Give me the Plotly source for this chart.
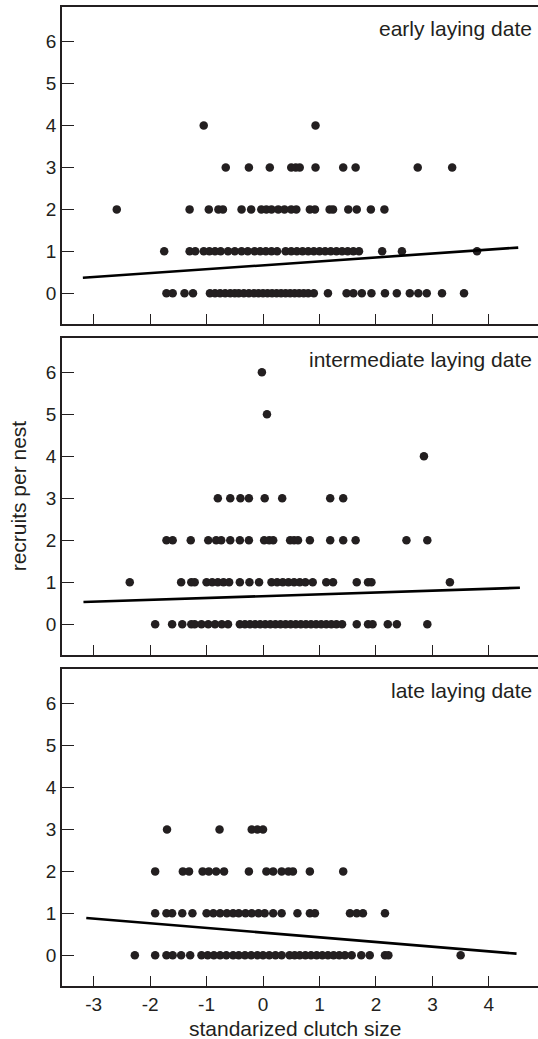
import plotly.graph_objects as go

# ---------------- data ----------------
x_ticks = [-3, -2, -1, 0, 1, 2, 3, 4]
x_tick_labels = ["-3", "-2", "-1", "0", "1", "2", "3", "4"]
y_ticks = [0, 1, 2, 3, 4, 5, 6]
panel_labels = ["early laying date", "intermediate laying date", "late laying date"]

# early laying date: x positions for each recruit count
early_y4 = [-1.05, 0.93]
early_y3 = [-0.66, -0.25, 0.12, 0.50, 0.58, 0.65, 0.93, 1.42, 1.64, 2.74, 3.35]
early_y2 = [-2.59, -1.30, -0.96, -0.79, -0.71, -0.38, -0.21, -0.03, 0.06, 0.15, 0.27,
            0.38, 0.50, 0.59, 0.83, 0.92, 1.18, 1.24, 1.51, 1.66, 1.91, 2.15]
early_y1 = [-1.75, -1.30, -1.20, -1.05, -0.95, -0.85, -0.75, -0.62, -0.50, -0.38, -0.27,
            -0.15, -0.05, 0.05, 0.15, 0.25, 0.40, 0.50, 0.60, 0.70, 0.80, 0.90, 1.00,
            1.10, 1.20, 1.30, 1.40, 1.50, 1.60, 1.70, 2.11, 2.46, 3.79]
early_y0 = [-1.71, -1.60, -1.39, -1.24, -0.94, -0.85, -0.76, -0.67, -0.58, -0.50, -0.43,
            -0.34, -0.25, -0.16, -0.08, 0.00, 0.08, 0.16, 0.24, 0.32, 0.40, 0.48, 0.56,
            0.64, 0.72, 0.80, 0.90, 1.15, 1.48, 1.60, 1.75, 1.92, 2.16, 2.37, 2.60, 2.75,
            2.90, 3.17, 3.56]
early_fit_x = [-3.19, 4.52]
early_fit_y = [0.37, 1.09]

# intermediate laying date
inter_y6 = [-0.02]
inter_y5 = [0.07]
inter_y4 = [2.85]
inter_y3 = [-0.80, -0.58, -0.40, -0.25, 0.03, 0.34, 1.19, 1.42]
inter_y2 = [-1.71, -1.60, -1.28, -0.97, -0.83, -0.74, -0.58, -0.41, -0.25, 0.02, 0.11,
            0.18, 0.48, 0.55, 0.62, 0.83, 1.19, 1.42, 1.64, 2.54, 2.91]
inter_y1 = [-2.36, -1.45, -1.27, -1.21, -1.00, -0.90, -0.80, -0.70, -0.60, -0.41, -0.24,
            -0.07, 0.15, 0.25, 0.35, 0.45, 0.55, 0.65, 0.75, 0.88, 1.12, 1.24, 1.66,
            1.86, 1.92, 3.31]
inter_y0 = [-1.91, -1.61, -1.43, -1.27, -1.21, -1.09, -0.97, -0.85, -0.73, -0.62, -0.41,
            -0.32, -0.23, -0.14, -0.05, 0.04, 0.13, 0.22, 0.31, 0.40, 0.49, 0.58, 0.67,
            0.76, 0.85, 0.94, 1.03, 1.12, 1.21, 1.30, 1.40, 1.66, 1.86, 1.94, 2.21, 2.37,
            2.91]
inter_fit_x = [-3.18, 4.55]
inter_fit_y = [0.53, 0.87]

# late laying date
late_y3 = [-1.70, -0.77, -0.20, -0.10, 0.00]
late_y2 = [-1.91, -1.42, -1.31, -1.07, -0.96, -0.83, -0.69, -0.25, 0.06, 0.18, 0.33,
           0.45, 0.53, 0.83, 1.42]
late_y1 = [-1.91, -1.71, -1.61, -1.43, -1.25, -1.00, -0.88, -0.76, -0.64, -0.53, -0.43,
           -0.31, -0.20, -0.08, 0.03, 0.18, 0.33, 0.61, 0.83, 0.92, 1.54, 1.66, 1.77, 2.16]
late_y0 = [-2.27, -1.91, -1.71, -1.60, -1.45, -1.29, -1.09, -0.98, -0.87, -0.76, -0.65,
           -0.53, -0.43, -0.32, -0.21, -0.10, 0.00, 0.11, 0.22, 0.33, 0.47, 0.56, 0.65,
           0.75, 0.85, 0.95, 1.05, 1.15, 1.25, 1.35, 1.45, 1.57, 1.74, 1.89, 2.16, 2.22,
           3.50]
late_fit_x = [-3.13, 4.49]
late_fit_y = [0.89, 0.04]

# ---------------- build ----------------
INK = "#231f20"
FONT = "Liberation Sans, Arial, Helvetica, sans-serif"

panels = [
    ({0: early_y0, 1: early_y1, 2: early_y2, 3: early_y3, 4: early_y4}, early_fit_x, early_fit_y),
    ({0: inter_y0, 1: inter_y1, 2: inter_y2, 3: inter_y3, 4: inter_y4, 5: inter_y5, 6: inter_y6},
     inter_fit_x, inter_fit_y),
    ({0: late_y0, 1: late_y1, 2: late_y2, 3: late_y3}, late_fit_x, late_fit_y),
]

domains = [[0.6762, 1.0], [0.3381, 0.6622], [0.0, 0.3238]]
y_range = [-0.73, 6.82]

fig = go.Figure()
layout = dict(
    width=538, height=1039,
    margin=dict(l=62, r=0, t=7, b=53, autoexpand=False),
    paper_bgcolor="white", plot_bgcolor="white",
    showlegend=False,
    font=dict(family=FONT, color=INK, size=19),
    annotations=[],
)

for i, (levels, fx, fy) in enumerate(panels):
    n = "" if i == 0 else str(i + 1)
    xs, ys = [], []
    for lvl, vals in levels.items():
        xs += vals
        ys += [lvl] * len(vals)
    fig.add_trace(go.Scatter(x=xs, y=ys, mode="markers", xaxis="x" + n, yaxis="y" + n,
                             marker=dict(size=8.5, color=INK, line=dict(width=0))))
    fig.add_trace(go.Scatter(x=fx, y=fy, mode="lines", xaxis="x" + n, yaxis="y" + n,
                             line=dict(color="black", width=2.6)))
    layout["xaxis" + n] = dict(
        domain=[0, 1], anchor="y" + n, range=[-3.56, 4.87],
        tickvals=x_ticks, ticktext=x_tick_labels,
        ticks="inside", ticklen=10, tickwidth=1.2, tickcolor=INK,
        showline=True, linecolor=INK, linewidth=1.5, mirror=True,
        showgrid=False, zeroline=False, showticklabels=(i == 2),
        tickfont=dict(size=19, color=INK, family=FONT),
    )
    layout["yaxis" + n] = dict(
        domain=domains[i], anchor="x" + n, range=y_range,
        tickvals=y_ticks, ticks="inside", ticklen=12, tickwidth=1.2, tickcolor=INK,
        showline=True, linecolor=INK, linewidth=1.5, mirror=False,
        showgrid=False, zeroline=False,
        tickfont=dict(size=19, color=INK, family=FONT),
    )
    layout["annotations"].append(dict(
        text=panel_labels[i], xref="x" + n + " domain", yref="y" + n + " domain",
        x=1, y=1, xanchor="right", yanchor="top", xshift=-4, yshift=-8,
        showarrow=False, font=dict(size=21, color=INK, family=FONT)))

layout["annotations"].append(dict(
    text="recruits per nest", xref="paper", yref="y2 domain", x=0, y=0.5,
    xanchor="center", yanchor="middle", xshift=-44, textangle=-90,
    showarrow=False, font=dict(size=21, color=INK, family=FONT)))
layout["annotations"].append(dict(
    text="standarized clutch size", xref="x3 domain", yref="paper", x=0.4905, y=0,
    xanchor="center", yanchor="middle", yshift=-42,
    showarrow=False, font=dict(size=21, color=INK, family=FONT)))

fig.update_layout(**layout)
fig.write_html(
    "out.html",
    config={"displayModeBar": False},
    post_script="document.body.style.margin='0';document.body.style.overflow='hidden';",
)
